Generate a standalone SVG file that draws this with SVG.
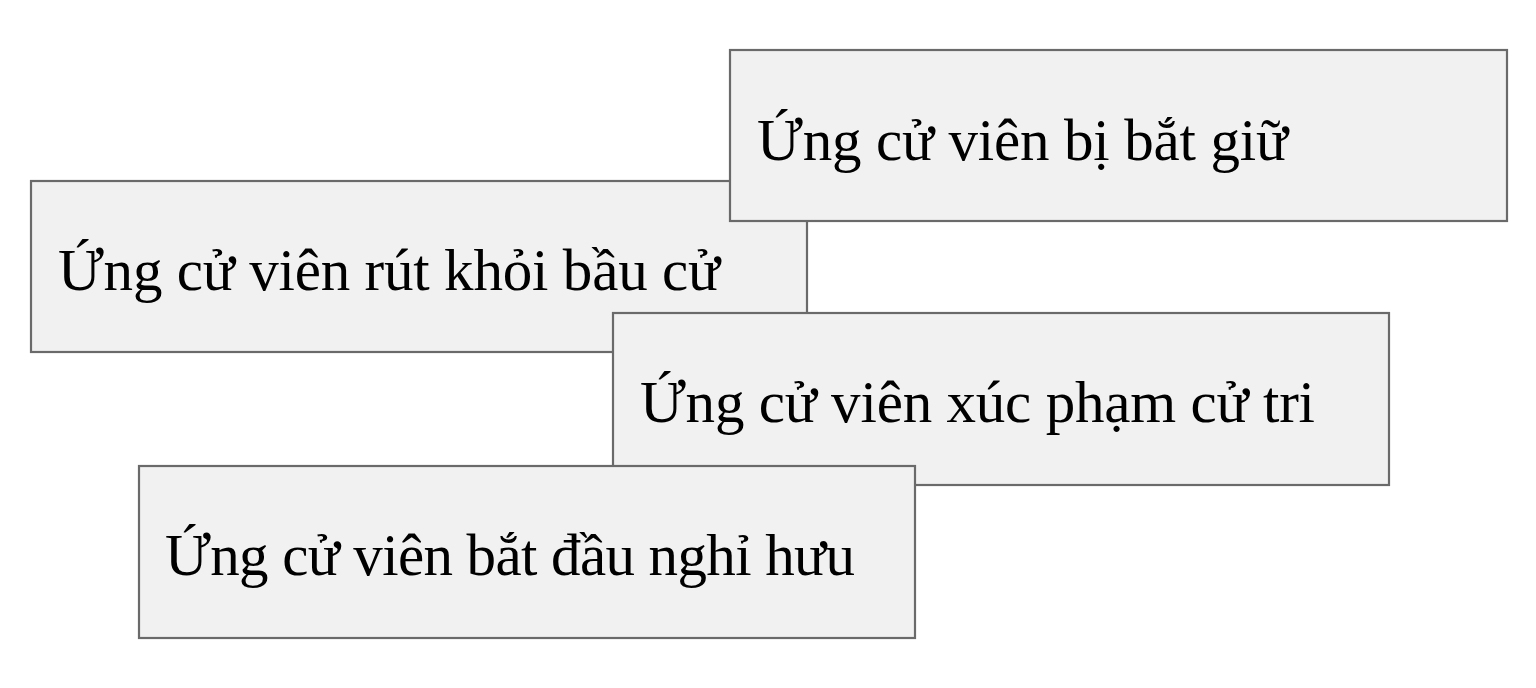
<svg xmlns="http://www.w3.org/2000/svg" width="1536" height="688" viewBox="0 0 1536 688">
<style>
.box{fill:#f1f1f1;stroke:#6a6a6a;stroke-width:2.2}
.t{font-family:"Liberation Serif","Times New Roman",serif;font-size:59px;fill:#000}
</style>
<rect width="1536" height="688" fill="#ffffff"/>
<g id="node2"><rect class="box" x="31" y="181" width="776" height="171"/><text class="t" x="58" y="290" textLength="662">Ứng cử viên rút khỏi bầu cử</text></g>
<g id="node1"><rect class="box" x="730" y="50" width="777" height="171"/><text class="t" x="757" y="160" textLength="531">Ứng cử viên bị bắt giữ</text></g>
<g id="node3"><rect class="box" x="613" y="313" width="776" height="172"/><text class="t" x="640" y="422" textLength="675">Ứng cử viên xúc phạm cử tri</text></g>
<g id="node4"><rect class="box" x="139" y="466" width="776" height="172"/><text class="t" x="165" y="575" textLength="690">Ứng cử viên bắt đầu nghỉ hưu</text></g>
<g id="connectors"/>
</svg>
